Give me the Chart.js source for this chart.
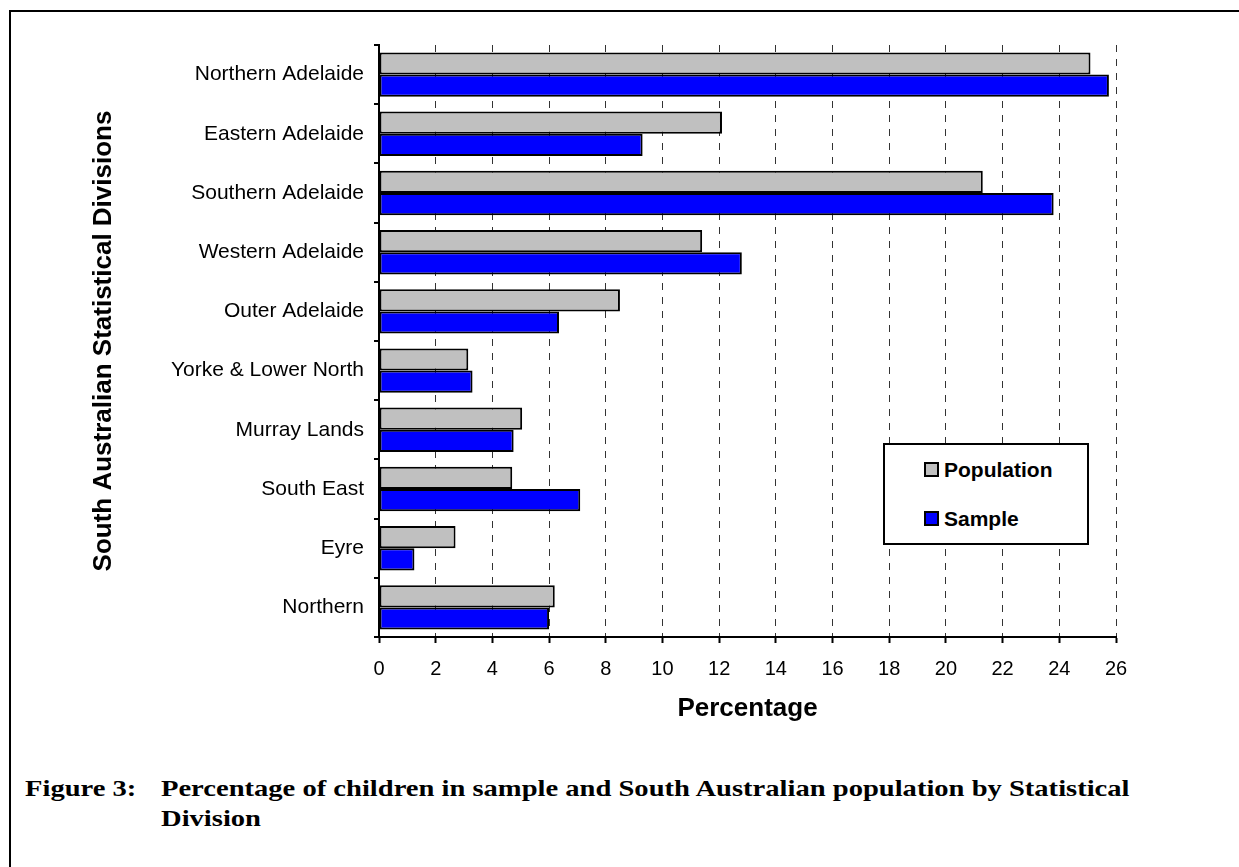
<!DOCTYPE html>
<html>
<head>
<meta charset="utf-8">
<title>Figure 3</title>
<script src="https://cdn.jsdelivr.net/npm/chart.js@4.4.0/dist/chart.umd.min.js"></script>
<style>
  body { margin: 0; background: #fff; width: 1239px; height: 867px; overflow: hidden; position: relative; }
  #frame { position: absolute; left: 9px; top: 10px; width: 1300px; height: 900px; border-top: 2px solid #000; border-left: 2px solid #000; }
  #wrap { position: absolute; left: 0; top: 0; width: 1239px; height: 724px; }
  #legend { position: absolute; left: 883px; top: 443px; width: 202px; height: 98px; border: 2px solid #000; background: #fff;
            font-family: "Liberation Sans", Arial, sans-serif; font-weight: bold; font-size: 21px; }
  .item { position: absolute; left: 39px; height: 24px; line-height: 24px; white-space: nowrap; }
  .box { display: inline-block; width: 11px; height: 11px; border: 2px solid #000; vertical-align: middle; margin-right: 5px; position: relative; top: -2px; }
  .cap { position: absolute; font-family: "Liberation Serif", "Times New Roman", serif; font-weight: bold; font-size: 24px; line-height: 30px; color: #000;
         white-space: nowrap; transform: scaleX(1.19); transform-origin: left top; }
</style>
</head>
<body>
<div id="frame"></div>
<div id="wrap"><canvas id="mycanvas"></canvas></div>
<div id="legend">
  <div class="item" style="top:13px"><span class="box" style="background:#c0c0c0"></span>Population</div>
  <div class="item" style="top:62px"><span class="box" style="background:#0000ff"></span>Sample</div>
</div>
<div class="cap" style="left:25px; top:773px">Figure 3:</div>
<div class="cap" style="left:161px; top:773px">Percentage of children in sample and South Australian population by Statistical<br>Division</div>
<script>
var divisions = ['Northern Adelaide', 'Eastern Adelaide', 'Southern Adelaide', 'Western Adelaide', 'Outer Adelaide',
                 'Yorke & Lower North', 'Murray Lands', 'South East', 'Eyre', 'Northern'];
var population = [25.1, 12.1, 21.3, 11.4, 8.5, 3.15, 5.05, 4.7, 2.7, 6.2];
var sample = [25.75, 9.3, 23.8, 12.8, 6.35, 3.3, 4.75, 7.1, 1.25, 6.0];
var xTicks = [0, 2, 4, 6, 8, 10, 12, 14, 16, 18, 20, 22, 24, 26];

var canvasH = 724;
var font = "'Liberation Sans', Arial, sans-serif";

var ctx = document.getElementById('mycanvas');
var barGraph = new Chart(ctx, {
	type: 'bar',
	data: {
		labels: divisions,
		datasets: [
			{
				label: 'Population',
				backgroundColor: '#c0c0c0',
				borderColor: '#000',
				borderWidth: 2,
				borderSkipped: false,
				data: population
			},
			{
				label: 'Sample',
				backgroundColor: '#0000ff',
				borderColor: '#000',
				borderWidth: 2,
				borderSkipped: false,
				data: sample
			}
		]
	},
	options: {
		indexAxis: 'y',
		responsive: true,
		maintainAspectRatio: false,
		animation: false,
		datasets: { bar: { categoryPercentage: 0.75, barPercentage: 1 } },
		layout: { padding: { top: 45, left: 88, right: 123, bottom: 0 } },
		plugins: { legend: { display: false }, tooltip: { enabled: false } },
		scales: {
			x: {
				min: 0,
				max: 26,
				afterBuildTicks: function(scale) {
					scale.ticks = xTicks.map(function(v) { return { value: v }; });
				},
				afterFit: function(scale) { scale.height = canvasH - 637; },
				grid: { color: '#333', lineWidth: 1, tickColor: '#000', tickLength: 6, tickWidth: 2 },
				border: { display: true, color: '#000', width: 2, dash: [7, 7] },
				ticks: { color: '#000', font: { family: font, size: 20 }, padding: 14, maxRotation: 0 },
				title: { display: true, text: 'Percentage', color: '#000', font: { family: font, size: 26, weight: 'bold' }, padding: 0 }
			},
			y: {
				afterFit: function(scale) { scale.width = 379 - 88; },
				grid: { display: true, drawOnChartArea: false, offset: true, color: '#000', lineWidth: 2, tickLength: 5 },
				border: { display: true, color: '#000', width: 2 },
				ticks: { color: '#000', font: { family: font, size: 21 }, padding: 10 },
				title: { display: true, text: 'South Australian Statistical Divisions', color: '#000', font: { family: font, size: 26, weight: 'bold' }, padding: 0 }
			}
		}
	}
});
</script>
</body>
</html>
